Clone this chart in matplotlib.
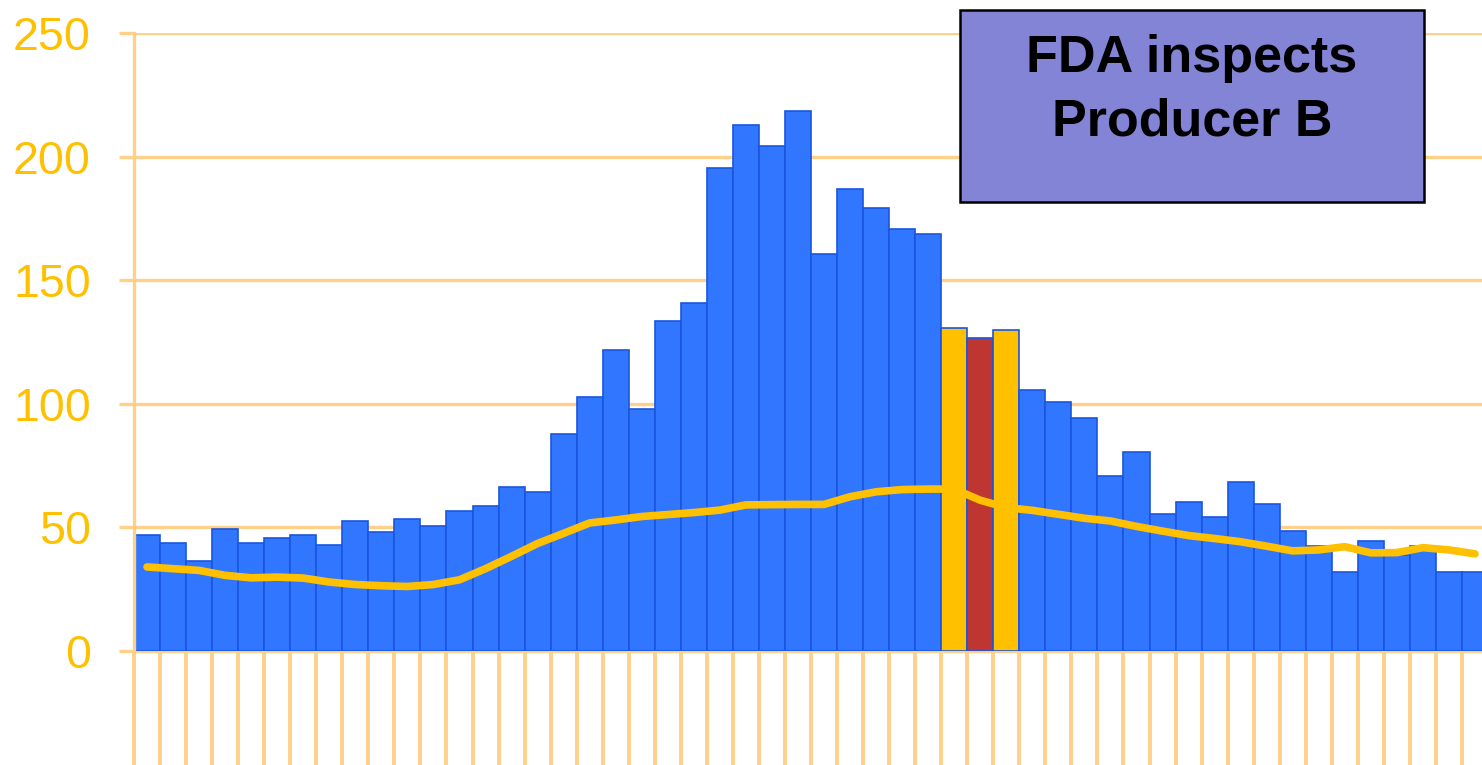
import matplotlib
matplotlib.use("Agg")
import matplotlib.pyplot as plt
from matplotlib.patches import Rectangle
import numpy as np

plt.rcParams['font.family'] = ['Liberation Sans', 'DejaVu Sans']

# weekly counts
counts = [46.9, 43.8, 36.3, 49.3, 43.8, 45.7, 46.9, 42.7, 52.6, 48.0,
          53.5, 50.7, 56.8, 58.8, 66.3, 64.3, 87.8, 102.8, 121.6, 97.9,
          133.6, 140.9, 195.4, 212.6, 204.2, 218.3, 160.5, 186.8, 179.4, 170.7,
          168.7, 130.8, 126.7, 129.8, 105.4, 100.7, 94.4, 70.6, 80.4, 55.3,
          60.4, 54.2, 68.3, 59.6, 48.5, 42.5, 32.0, 44.6, 39.0, 42.5,
          32.0, 32.0]
# moving average line
trend = [34.0, 33.3, 32.6, 30.6, 29.6, 29.9, 29.5, 27.9, 26.9, 26.4,
         26.1, 26.9, 28.8, 33.3, 38.3, 43.5, 47.6, 51.8, 53.0, 54.4,
         55.2, 56.0, 57.0, 59.1, 59.2, 59.3, 59.3, 62.4, 64.4, 65.3,
         65.5, 65.5, 61.0, 58.0, 56.9, 55.3, 53.7, 52.6, 50.4, 48.5,
         46.7, 45.5, 44.2, 42.4, 40.5, 40.9, 42.2, 39.7, 39.8, 41.8,
         40.9, 39.3]
# bars around the inspection
highlight = {31: 'yellow', 32: 'red', 33: 'yellow'}
yticks = [0, 50, 100, 150, 200, 250]
box_text = ["FDA inspects", "Producer B"]

BLUE = '#3176FF'
EDGE = '#1A55E0'
YELLOW = '#FFC000'
RED = '#BE3632'
GRID = '#FFD08A'
BOX = '#8484D6'

W, H = 1482, 765
fig = plt.figure(figsize=(W / 100, H / 100), dpi=100)
ax = fig.add_axes([134 / W, 1 - 651 / H, 1354 / W, 618 / H])

x = np.arange(len(counts))
colors = []
for i in x:
    c = highlight.get(i)
    if c == 'yellow':
        colors.append(YELLOW)
    elif c == 'red':
        colors.append(RED)
    else:
        colors.append(BLUE)

ax.bar(x, counts, width=1.0, color=colors, edgecolor=EDGE, linewidth=1.2, zorder=2)
ax.plot(x, trend, color=YELLOW, lw=5.5, solid_capstyle='round',
        solid_joinstyle='round', zorder=3)

ax.set_xlim(-0.5, len(counts) - 0.5)
ax.set_ylim(0, 250)
ax.set_yticks(yticks)
ax.set_xticks(np.arange(len(counts) + 1) - 0.5)
ax.set_xticklabels([])
ax.grid(axis='y', color=GRID, lw=2.4, zorder=0)
ax.set_axisbelow(True)

for s in ['top', 'right']:
    ax.spines[s].set_visible(False)
ax.spines['left'].set_color(GRID)
ax.spines['left'].set_linewidth(2.4)
ax.spines['bottom'].set_color(GRID)
ax.spines['bottom'].set_linewidth(2.4)
ax.spines['bottom'].set_zorder(1)

ax.tick_params(axis='x', direction='out', length=84, width=2.8, color=GRID)
ax.tick_params(axis='y', direction='out', length=11, width=2.4, color=GRID,
               labelcolor=YELLOW, labelsize=33.5, pad=20)

# annotation box
fig.add_artist(Rectangle((960 / W, 1 - 202 / H), 464 / W, 192 / H,
                         transform=fig.transFigure, facecolor=BOX,
                         edgecolor='black', linewidth=1.8, zorder=5))
fig.text(1192 / W, 1 - 72 / H, box_text[0], ha='center', va='baseline',
         fontsize=37.5, fontweight='bold', color='black', zorder=6)
fig.text(1192 / W, 1 - 135 / H, box_text[1], ha='center', va='baseline',
         fontsize=37.5, fontweight='bold', color='black', zorder=6)

fig.savefig('out.png', dpi=100)
